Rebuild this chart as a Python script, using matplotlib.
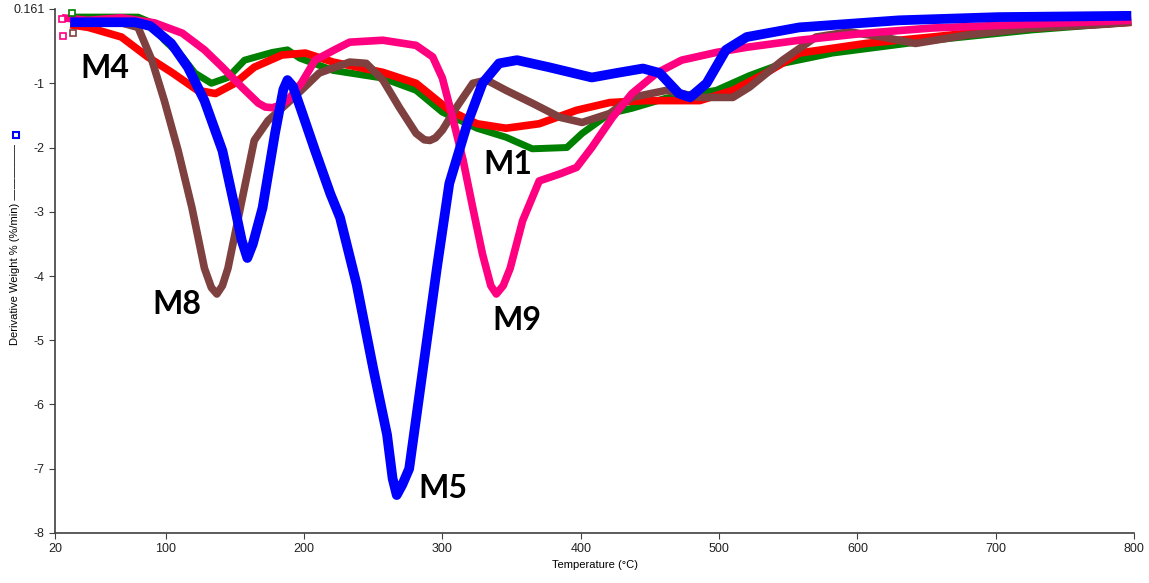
import matplotlib.pyplot as plt
from matplotlib.lines import Line2D

# DTG curves (temperature in °C, derivative weight in %/min)
m5_t = [31, 78, 89, 104, 116, 128, 141, 150, 155, 159, 163, 170, 179, 185, 188, 192,
        198, 208, 219, 226, 238, 250, 260, 264, 267, 271, 276, 286, 296, 305, 318,
        329, 341, 354, 377, 408, 426, 445, 457, 471, 479, 491, 505, 520, 558, 630,
        702, 798]
m5_v = [-0.05, -0.05, -0.11, -0.38, -0.75, -1.27, -2.05, -2.94, -3.45, -3.72, -3.5,
        -2.94, -1.78, -1.1, -0.95, -1.05, -1.42, -2.05, -2.72, -3.09, -4.13, -5.44,
        -6.47, -7.15, -7.41, -7.25, -7.0, -5.44, -3.88, -2.56, -1.63, -1.0, -0.69,
        -0.64, -0.75, -0.91, -0.84, -0.77, -0.84, -1.16, -1.22, -1.0, -0.48, -0.28,
        -0.13, -0.02, 0.03, 0.05]

m4_t = [31, 44, 68, 87, 105, 123, 136, 150, 164, 184, 201, 221, 257, 281, 305, 325,
        346, 370, 397, 421, 447, 486, 510, 534, 558, 606, 654, 702, 798]
m4_v = [-0.09, -0.13, -0.28, -0.59, -0.84, -1.11, -1.16, -1.0, -0.75, -0.56, -0.53,
        -0.67, -0.83, -1.0, -1.42, -1.63, -1.70, -1.63, -1.42, -1.30, -1.27, -1.27,
        -1.11, -0.84, -0.53, -0.38, -0.28, -0.17, -0.05]

m1_t = [31, 80, 89, 99, 112, 121, 133, 145, 157, 177, 188, 197, 221, 257, 281, 300,
        325, 346, 365, 390, 401, 421, 437, 462, 498, 522, 546, 582, 654, 726, 798]
m1_v = [0.03, 0.03, -0.05, -0.33, -0.59, -0.84, -1.0, -0.91, -0.64, -0.52, -0.48,
        -0.61, -0.80, -0.92, -1.11, -1.45, -1.70, -1.84, -2.02, -2.0, -1.78, -1.47,
        -1.39, -1.23, -1.11, -0.88, -0.69, -0.53, -0.33, -0.17, -0.05]

m8_t = [31, 68, 80, 90, 99, 109, 119, 128, 133, 137, 141, 145, 155, 164, 174, 188,
        198, 211, 233, 245, 257, 269, 281, 287, 291, 295, 300, 310, 322, 332, 346,
        365, 385, 401, 421, 437, 462, 486, 510, 522, 546, 570, 594, 618, 642, 679,
        726, 780, 798]
m8_v = [-0.05, -0.06, -0.13, -0.64, -1.27, -2.05, -2.94, -3.88, -4.18, -4.28, -4.15,
        -3.88, -2.83, -1.89, -1.58, -1.31, -1.11, -0.84, -0.67, -0.69, -0.95, -1.38,
        -1.78, -1.88, -1.89, -1.85, -1.73, -1.38, -1.0, -0.95, -1.11, -1.31, -1.53,
        -1.61, -1.47, -1.22, -1.11, -1.22, -1.22, -1.06, -0.64, -0.28, -0.20, -0.28,
        -0.38, -0.25, -0.14, -0.08, -0.05]

m9_t = [25, 44, 68, 92, 112, 128, 141, 155, 167, 172, 177, 182, 188, 198, 208, 222,
        233, 257, 281, 293, 300, 307, 315, 322, 329, 335, 339, 344, 349, 358, 370,
        385, 397, 408, 423, 437, 455, 473, 498, 520, 558, 606, 654, 798]
m9_v = [0.02, -0.02, 0.02, -0.06, -0.22, -0.48, -0.75, -1.06, -1.31, -1.37, -1.38,
        -1.35, -1.27, -1.0, -0.64, -0.48, -0.36, -0.33, -0.41, -0.59, -0.92, -1.5,
        -2.2, -2.94, -3.66, -4.15, -4.28, -4.15, -3.88, -3.14, -2.52, -2.41, -2.31,
        -2.0, -1.53, -1.16, -0.84, -0.64, -0.52, -0.44, -0.33, -0.22, -0.14, -0.02]

# series order = drawing order (bottom to top)
series = [
    ("M1", m1_t, m1_v, "#008000", 5.0),
    ("M4", m4_t, m4_v, "#ff0000", 5.5),
    ("M8", m8_t, m8_v, "#7f4040", 5.5),
    ("M9", m9_t, m9_v, "#ff0080", 5.5),
    ("M5", m5_t, m5_v, "#0000ff", 7.0),
]

# hollow start markers at the left edge
marker_t = [32, 33, 26, 25]
marker_v = [0.09, -0.22, -0.27, 0.0]
marker_c = ["#008000", "#7f4040", "#ff0080", "#ff0080"]

# sample labels
label_txt = ["M4", "M1", "M8", "M9", "M5"]
label_t = [56, 347, 108, 354, 300]
label_v = [-0.77, -2.27, -4.45, -4.70, -7.30]

xticks = [20, 100, 200, 300, 400, 500, 600, 700, 800]
yticks = [0.161, -1, -2, -3, -4, -5, -6, -7, -8]

fig = plt.figure(figsize=(11.49, 5.83), dpi=100)
ax = fig.add_axes([0.0479, 0.0858, 0.9391, 0.8993])

for name, t, v, c, lw in series:
    ax.plot(t, v, color=c, lw=lw, solid_joinstyle="round", solid_capstyle="butt")

for t, v, c in zip(marker_t, marker_v, marker_c):
    ax.plot([t], [v], marker="s", ms=5, mfc="white", mec=c, mew=1.2, clip_on=False)

for s, t, v in zip(label_txt, label_t, label_v):
    ax.text(t, v, s, fontsize=23, fontweight="bold", family="Lato",
            ha="center", va="center", color="black")

ax.set_xlim(20, 800)
ax.set_ylim(-8, 0.161)
ax.set_xticks(xticks)
ax.set_xticklabels([str(x) for x in xticks])
ax.set_yticks(yticks)
ax.set_yticklabels(["0.161"] + [str(y) for y in yticks[1:]])
ax.tick_params(labelsize=9, length=4, color="#404040", direction="out",
               labelcolor="#222222")
for side in ("top", "right"):
    ax.spines[side].set_visible(False)
for side in ("left", "bottom"):
    ax.spines[side].set_color("#404040")
    ax.spines[side].set_linewidth(1.2)

for lab in ax.get_xticklabels() + ax.get_yticklabels():
    lab.set_family("Liberation Sans")

ax.set_xlabel("Temperature (°C)", fontsize=8, family="Liberation Sans", labelpad=3)

fig.text(0.013, 0.408, "Derivative Weight % (%/min) —————", rotation=90,
         fontsize=8, family="Liberation Sans", ha="center", va="bottom")
fig.add_artist(Line2D([0.0135], [0.768], marker="s", ms=5, mfc="white",
                      mec="#0000ff", mew=1.5, transform=fig.transFigure))

fig.savefig("out.png", dpi=100)
